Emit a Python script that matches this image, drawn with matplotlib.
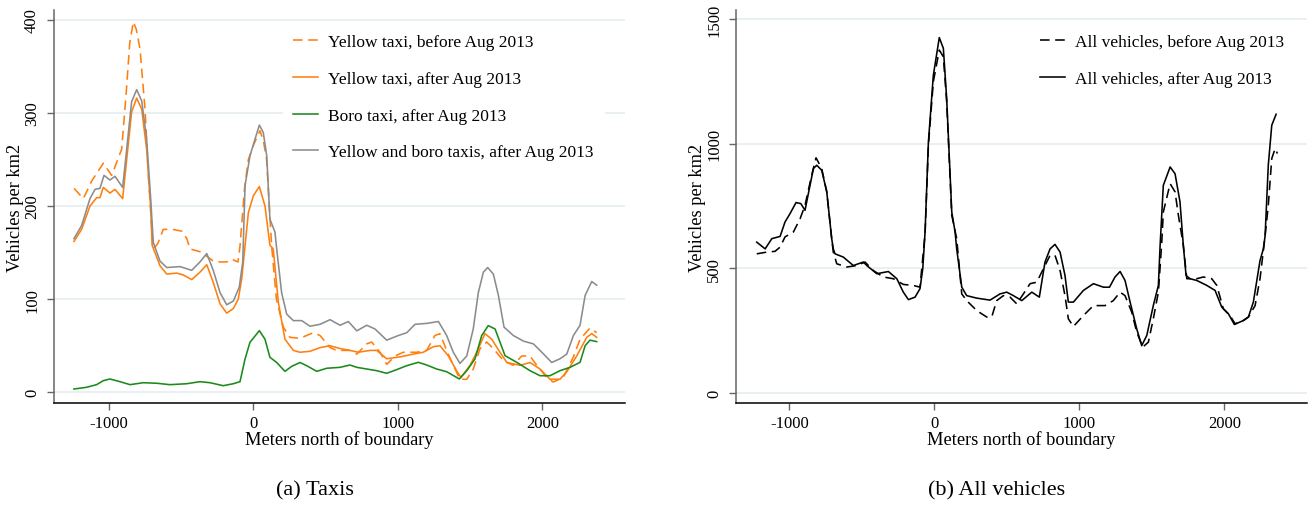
import matplotlib
matplotlib.use("Agg")
import matplotlib.pyplot as plt

plt.rcParams['font.family'] = ['Liberation Serif', 'DejaVu Serif']
plt.rcParams['axes.unicode_minus'] = False

# ---- panel (a): taxis, vehicles per km2 by meters north of boundary ----
yb_x = [-1240, -1176, -1118, -1038, -980, -950, -911, -880, -855, -830, -810, -784, -749, -725,
        -700, -690, -660, -623, -560, -493, -460, -438, -369, -330, -277, -230, -184, -150, -106,
        -92, -60, -34, 0, 46, 70, 92, 127, 160, 208, 254, 323, 415, 462, 531, 577, 669, 716, 785,
        819, 877, 923, 981, 1038, 1131, 1200, 1257, 1292, 1338, 1384, 1430, 1477, 1522, 1569,
        1615, 1661, 1730, 1799, 1857, 1915, 1961, 2030, 2076, 2145, 2215, 2261, 2330, 2376]
yb_y = [219, 208, 227, 246, 233, 245, 261, 320, 375, 398, 390, 369, 304, 230,
        170, 154, 160, 175, 175, 173, 165, 154, 151, 147, 141, 140, 140, 143, 140,
        157, 220, 250, 265, 281, 270, 250, 157, 100, 70, 59, 58, 64, 61, 48, 45, 45, 41, 52,
        54, 43, 30, 39, 43, 43, 45, 61, 63, 45, 29, 14, 14, 25, 47,
        54, 47, 34, 29, 39, 39, 29, 16, 11, 16, 38, 57, 69, 64]

ya_x = [-1241, -1188, -1130, -1084, -1061, -1038, -992, -957, -904, -876, -842, -807, -772, -738,
        -710, -700, -646, -599, -530, -484, -426, -369, -322, -277, -230, -184, -138, -104, -80,
        -34, 0, 42, 81, 115, 138, 173, 219, 277, 323, 392, 462, 531, 600, 669, 727, 808, 854,
        923, 1015, 1107, 1176, 1246, 1292, 1350, 1407, 1437, 1500, 1546, 1603, 1650, 1707, 1754,
        1846, 1915, 1984, 2053, 2122, 2169, 2238, 2307, 2342, 2376]
ya_y = [162, 175, 200, 209, 209, 220, 214, 218, 208, 250, 301, 316, 304, 261,
        198, 158, 136, 127, 128, 126, 121, 129, 137, 118, 95, 85, 90, 100, 122,
        193, 211, 221, 200, 158, 154, 97, 57, 45, 43, 44, 48, 50, 47, 45, 43, 45, 45,
        36, 38, 41, 43, 49, 50, 39, 23, 16, 29, 43, 63, 57, 43, 32,
        29, 32, 25, 14, 14, 22, 39, 59, 63, 59]

boro_x = [-1241, -1153, -1084, -1038, -992, -922, -853, -761, -668, -576, -461, -369, -300, -208,
          -138, -92, -57, -23, 42, 81, 115, 162, 219, 266, 323, 369, 439, 508, 600, 669, 716,
          785, 854, 923, 992, 1062, 1142, 1200, 1269, 1338, 1426, 1477, 1534, 1580, 1626, 1673,
          1742, 1823, 1915, 1984, 2053, 2122, 2192, 2261, 2296, 2330, 2376]
boro_y = [3.5, 5.4, 8.2, 12.5, 14.3, 11.4, 8.2, 10.3, 9.7, 8.2, 9.2, 11.4, 10.3, 7.1,
          9.2, 11.4, 35.8, 53.7, 66.2, 57, 37.6, 32, 22.5, 27.9, 32, 28.6, 22.5, 25.8, 26.8, 29.3, 26.8,
          25, 23.2, 20.4, 24.3, 28.6, 32.2, 29.3, 25, 22.1, 14.3, 23.2, 35.8, 60.8, 71.6, 68,
          39.3, 32.2, 23.2, 17.8, 17.8, 23.2, 26.8, 32.2, 50, 56, 54.4]

both_x = [-1241, -1188, -1130, -1095, -1061, -1033, -992, -957, -904, -876, -842, -807, -772, -738,
          -710, -692, -646, -599, -507, -426, -369, -322, -277, -230, -184, -138, -97, -73, -57,
          -23, 12, 42, 69, 93, 115, 150, 162, 196, 231, 277, 335, 392, 462, 531, 600, 658, 716,
          785, 842, 923, 1004, 1062, 1119, 1200, 1281, 1338, 1384, 1430, 1477, 1522, 1557, 1592,
          1622, 1661, 1696, 1735, 1799, 1869, 1938, 1984, 2065, 2122, 2169, 2215, 2261, 2296,
          2342, 2376]
both_y = [165, 179, 208, 218, 219, 233, 228, 232, 220, 261, 312, 325, 313, 272,
          208, 161, 141, 134, 135, 131, 140, 149, 131, 107, 94, 98, 113, 140, 222,
          254, 272, 287, 279, 254, 186, 172, 154, 107, 84, 77, 77, 71, 73, 78, 72, 76, 66,
          72, 68, 56, 61, 64, 73, 74, 76, 61, 43, 31, 39, 68, 107, 129,
          134, 127, 104, 70, 61, 55, 52, 45, 32, 36, 41, 61, 72, 104,
          119, 115]

# ---- panel (b): all vehicles ----
allb_x = [-1225, -1156, -1099, -1064, -1030, -972, -926, -892, -846, -816, -777, -742, -708, -697,
          -673, -604, -535, -478, -421, -352, -283, -214, -145, -99, -87, -64, -41, -7, 34, 62,
          85, 120, 154, 189, 223, 292, 361, 396, 430, 476, 522, 568, 614, 660, 706, 752, 798,
          832, 867, 901, 924, 959, 1028, 1097, 1177, 1234, 1281, 1315, 1361, 1396, 1437, 1476,
          1510, 1545, 1568, 1579, 1626, 1660, 1683, 1717, 1741, 1810, 1855, 1913, 1948, 1993,
          2039, 2074, 2131, 2166, 2212, 2246, 2281, 2303, 2327, 2350, 2366]
allb_y = [558, 565, 568, 585, 626, 646, 699, 753, 874, 944, 901, 807, 619, 565,
          518, 505, 511, 525, 491, 465, 458, 435, 431, 424, 498, 640, 995, 1250, 1377, 1350,
          1169, 713, 619, 397, 370, 330, 304, 305, 370, 390, 384, 357, 397, 438, 444, 498, 552,
          552, 491, 390, 297, 266, 310, 350, 350, 370, 404, 390, 324, 243, 183, 203,
          297, 404, 600, 726, 840, 807, 713, 592, 458, 458, 465, 458, 431, 337,
          310, 277, 290, 304, 350, 458, 630, 753, 941, 981, 961]

alla_x = [-1225, -1167, -1121, -1064, -1030, -996, -954, -921, -892, -869, -834, -811, -777, -742,
          -708, -697, -685, -628, -559, -490, -466, -397, -317, -259, -214, -179, -133, -99, -80,
          -64, -41, -7, 34, 62, 85, 120, 143, 154, 189, 223, 292, 384, 453, 499, 545, 603, 672,
          724, 763, 798, 832, 867, 901, 924, 959, 1028, 1097, 1166, 1208, 1246, 1281, 1315, 1350,
          1396, 1430, 1465, 1510, 1545, 1557, 1579, 1626, 1660, 1694, 1717, 1736, 1763, 1810,
          1879, 1936, 1982, 2028, 2069, 2131, 2166, 2200, 2246, 2269, 2281, 2303, 2327, 2357]
alla_y = [605, 578, 619, 628, 686, 719, 764, 760, 733, 800, 901, 914, 894, 807,
          619, 578, 558, 545, 511, 525, 511, 478, 487, 458, 404, 374, 384, 418, 498,
          646, 1008, 1276, 1427, 1384, 1182, 726, 646, 578, 424, 390, 380, 372, 397, 404, 390, 370, 404,
          384, 525, 578, 596, 565, 471, 364, 364, 411, 438, 424, 424, 465, 487, 451, 364,
          256, 189, 230, 350, 431, 592, 833, 907, 880, 767, 592, 471, 458, 451,
          431, 411, 344, 317, 274, 290, 304, 364, 531, 578, 630, 914, 1075, 1119]

orange = '#ff7f0e'
green = '#1a8a1a'
gray = '#8c8c8c'
grid_color = '#e8f0f1'
lw = 1.15

fig = plt.figure(figsize=(13.08, 5.10), dpi=100)
W, H = 1308.0, 510.0
ax1 = fig.add_axes([54 / W, 1 - 404 / H, (625 - 54) / W, (404 - 11) / H])
ax2 = fig.add_axes([736 / W, 1 - 404 / H, (1307 - 736) / W, (404 - 11) / H])

ax1.plot(yb_x, yb_y, color=orange, lw=lw, dashes=(6, 3.5), label='Yellow taxi, before Aug 2013')
ax1.plot(ya_x, ya_y, color=orange, lw=lw, label='Yellow taxi, after Aug 2013')
ax1.plot(boro_x, boro_y, color=green, lw=lw, label='Boro taxi, after Aug 2013')
ax1.plot(both_x, both_y, color=gray, lw=lw, label='Yellow and boro taxis, after Aug 2013')
ax1.set_xlim(-1379, 2572)
ax1.set_ylim(-11.5, 410.6)
ax1.set_yticks([0, 100, 200, 300, 400])

ax2.plot(allb_x, allb_y, color='black', lw=lw, dashes=(6, 3.5), label='All vehicles, before Aug 2013')
ax2.plot(alla_x, alla_y, color='black', lw=lw, label='All vehicles, after Aug 2013')
ax2.set_xlim(-1368, 2570)
ax2.set_ylim(-41.5, 1538)
ax2.set_yticks([0, 500, 1000, 1500])

for ax, leg_x in [(ax1, (283 - 54) / 571.0), (ax2, (1030 - 736) / 571.0)]:
    ax.set_xticks([-1000, 0, 1000, 2000])
    ax.grid(axis='y', color=grid_color, lw=1.4)
    ax.set_axisbelow(True)
    for s in ['top', 'right']:
        ax.spines[s].set_visible(False)
    ax.spines['left'].set_color('#666666')
    ax.spines['left'].set_linewidth(1.1)
    ax.spines['bottom'].set_color('black')
    ax.spines['bottom'].set_linewidth(1.1)
    ax.tick_params(axis='y', labelrotation=90, length=5, width=1, color='#666666', pad=5, labelsize=12)
    ax.tick_params(axis='x', length=5, width=1, color='#666666', pad=4, labelsize=12)
    for t in ax.get_yticklabels():
        t.set_verticalalignment('center')
    ax.set_xlabel('Meters north of boundary', fontsize=13.2)
    ax.set_ylabel('Vehicles per km2', fontsize=13.2)
    ax.xaxis.set_label_coords(0.5, -0.068)
    ax.yaxis.set_label_coords(-0.052, 0.5)
    leg = ax.legend(loc='upper left', bbox_to_anchor=(leg_x, 0.965), borderaxespad=0,
                    frameon=True, fancybox=False, facecolor='white', edgecolor='white',
                    framealpha=1, fontsize=12.5, handlelength=1.4, handletextpad=0.6,
                    labelspacing=1.18, borderpad=0.6)

fig.text(315 / W, 1 - 491 / H, '(a) Taxis', ha='center', va='center', fontsize=16)
fig.text(997 / W, 1 - 491 / H, '(b) All vehicles', ha='center', va='center', fontsize=16)

fig.savefig('out.png', dpi=100)
